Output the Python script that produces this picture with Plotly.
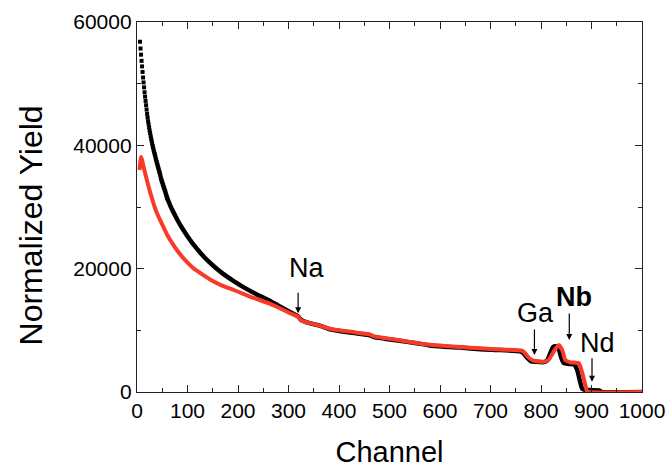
import plotly.graph_objects as go

# ---- data ----
# measured spectrum, steep start drawn as separate dots (one per channel)
black_start_ch = list(range(6, 61))
black_start_y = [56800, 55700, 54700, 53700, 52800, 51900, 51000, 50200, 49400, 48600,
                 47900, 47200, 46500, 45800, 45100, 44500, 43900, 43400, 42900, 42400,
                 42000, 41500, 41100, 40700, 40300, 39900, 39600, 39200, 38900, 38600,
                 38300, 37900, 37600, 37300, 37000, 36700, 36400, 36100, 35800, 35500,
                 35200, 34800, 34500, 34200, 34000, 33700, 33500, 33200, 33000, 32700,
                 32500, 32200, 31900, 31650, 31400]
# measured spectrum, remaining channels
black_ch = [60, 65, 70, 75, 80, 87, 94, 102, 110, 118, 127, 140, 155, 170, 193, 215,
            240, 260, 280, 300, 319, 325, 340, 360, 382, 400, 422, 440, 461, 468, 490,
            520, 550, 580, 610, 640, 680, 720, 759, 765, 772, 780, 790, 805, 812, 818,
            824, 830, 835, 840, 845, 855, 866, 872, 877, 882, 887, 900, 915, 920, 1000]
black_y = [31400, 30400, 29500, 28700, 27900, 26900, 26000, 25000, 24100, 23300, 22400,
           21300, 20200, 19200, 17900, 16800, 15700, 14900, 14000, 13100, 12250, 11700,
           11200, 10800, 10150, 9900, 9650, 9450, 9200, 8950, 8650, 8300, 7950, 7550,
           7350, 7200, 6950, 6800, 6600, 6300, 5600, 5000, 4900, 4850, 5100, 6200, 7300,
           7400, 7000, 5600, 4700, 4550, 4450, 3500, 1800, 500, 350, 300, 250, 30, 0]
# simulation
red_ch = [5, 8, 10, 12, 14, 17, 21, 26, 30, 35, 40, 48, 55, 61, 70, 80, 94, 110, 127,
          150, 170, 193, 220, 240, 260, 280, 300, 319, 325, 340, 360, 382, 400, 422, 440,
          461, 468, 490, 520, 550, 580, 610, 640, 680, 720, 762, 769, 775, 785, 805, 815,
          825, 835, 842, 848, 858, 875, 881, 887, 891, 894, 1000]
red_y = [36000, 38100, 37600, 36900, 36200, 35200, 33900, 32400, 31300, 30000, 28900,
         27500, 26300, 25300, 24100, 22900, 21500, 20200, 19200, 18000, 17200, 16500,
         15600, 15000, 14400, 13700, 12900, 12200, 11600, 11200, 10800, 10250, 10000,
         9800, 9550, 9350, 9050, 8750, 8400, 8000, 7650, 7450, 7300, 7080, 6900, 6700,
         6270, 5620, 5080, 4920, 5190, 6540, 7620, 6810, 5190, 4810, 4650, 3290, 1410,
         160, 0, 0]

x_ticks = [0, 100, 200, 300, 400, 500, 600, 700, 800, 900, 1000]
y_ticks = [0, 20000, 40000, 60000]

# element labels: name, text position, arrow tip position
label_names = ["Na", "Ga", "<b>Nb</b>", "Nd"]
label_x = [335, 790, 866, 912]
label_y = [20100, 12800, 15400, 7950]
arrow_x = [319, 787, 856, 901]
arrow_y = [12760, 6000, 8430, 1670]
arrow_len = [-22, -27, -28, -25]

FONT = "Liberation Sans, Arial, sans-serif"
RED = "#F93A28"

fig = go.Figure()
fig.add_trace(go.Scatter(x=black_start_ch, y=black_start_y, mode="markers",
                         marker=dict(symbol="square", size=4, color="black", line=dict(width=0)),
                         showlegend=False))
fig.add_trace(go.Scatter(x=black_ch, y=black_y, mode="lines",
                         line=dict(color="black", width=4.5, shape="spline", smoothing=0.6),
                         showlegend=False))
fig.add_trace(go.Scatter(x=red_ch, y=red_y, mode="lines",
                         line=dict(color=RED, width=4, shape="spline", smoothing=0.5),
                         showlegend=False))

for n, tx, ty, axp, ayp, al in zip(label_names, label_x, label_y, arrow_x, arrow_y, arrow_len):
    fig.add_annotation(x=tx, y=ty, text=n, showarrow=False,
                       font=dict(family=FONT, size=27, color="black"))
    fig.add_annotation(x=axp, y=ayp, text="", showarrow=True, ax=0, ay=al,
                       arrowhead=2, arrowsize=1, arrowwidth=1.2, arrowcolor="black")

# y-axis title (placed as rotated text to match the reference position)
fig.add_annotation(text="Normalized Yield", xref="paper", yref="y", x=-0.21, y=27000,
                   xanchor="center", yanchor="middle", textangle=-90, showarrow=False,
                   font=dict(family=FONT, size=32, color="black"))

axis_common = dict(showline=True, linecolor="#222", linewidth=1.3, mirror="ticks",
                   ticks="inside", ticklen=7, tickwidth=1.2, tickcolor="#222",
                   showgrid=False, zeroline=False,
                   tickfont=dict(family=FONT, size=21, color="black"))

fig.update_xaxes(range=[0, 1000], tickvals=x_ticks, ticktext=[str(v) for v in x_ticks],
                 minor=dict(dtick=50, ticks="inside", ticklen=3.5, tickcolor="#222", tickwidth=1.2),
                 title=dict(text="Channel", font=dict(family=FONT, size=29, color="black"),
                            standoff=22),
                 **axis_common)
fig.update_yaxes(range=[0, 60000], tickvals=y_ticks, ticktext=[str(v) for v in y_ticks],
                 minor=dict(dtick=10000, ticks="inside", ticklen=3.5, tickcolor="#222", tickwidth=1.2),
                 **axis_common)

fig.update_layout(width=670, height=468, plot_bgcolor="white", paper_bgcolor="white",
                  margin=dict(l=137, r=28, t=22, b=76, autoexpand=False))

fig.write_html("out.html", config={"displayModeBar": False},
               post_script="document.body.style.margin='0px';")
